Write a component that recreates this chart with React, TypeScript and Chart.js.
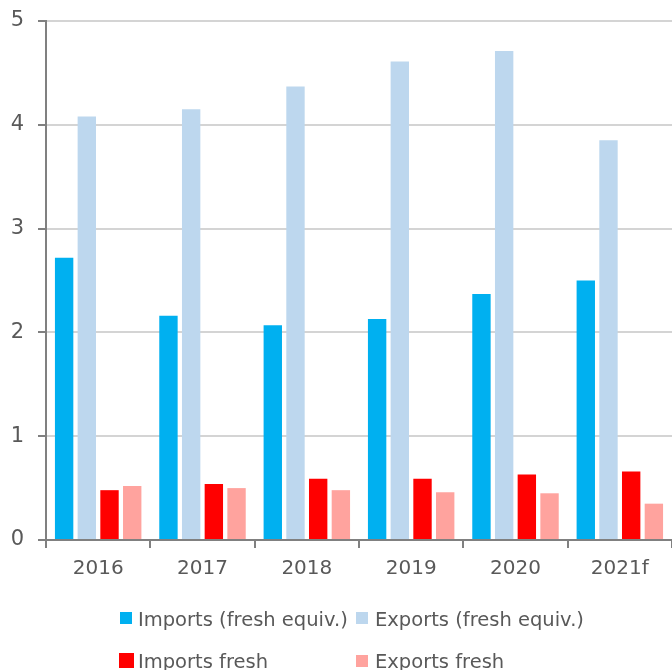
import React, { useEffect, useRef } from "react";
import { Chart, registerables } from "chart.js";

Chart.register(...registerables);

const categories = ["2016", "2017", "2018", "2019", "2020", "2021f"];
const importsEquiv = [2.72, 2.16, 2.07, 2.13, 2.37, 2.5];
const exportsEquiv = [4.08, 4.15, 4.37, 4.61, 4.71, 3.85];
const importsFresh = [0.48, 0.54, 0.59, 0.59, 0.63, 0.66];
const exportsFresh = [0.52, 0.5, 0.48, 0.46, 0.45, 0.35];

const seriesNames = [
  "Imports (fresh equiv.)",
  "Exports (fresh equiv.)",
  "Imports fresh",
  "Exports fresh",
];
const seriesColors = ["#00B0F0", "#BDD7EE", "#FF0000", "#FFA39E"];

const FONT = "'DejaVu Sans', sans-serif";
const TEXT = "#595959";

export default function App() {
  const ref = useRef<HTMLCanvasElement | null>(null);

  useEffect(() => {
    if (!ref.current) return;
    const values = [importsEquiv, exportsEquiv, importsFresh, exportsFresh];
    const chart = new Chart(ref.current, {
      type: "bar",
      data: {
        labels: categories,
        datasets: values.map((v, i) => ({
          label: seriesNames[i],
          data: v,
          backgroundColor: seriesColors[i],
          borderWidth: 0,
          categoryPercentage: 0.87,
          barPercentage: 0.81,
        })),
      },
      options: {
        animation: false,
        responsive: false,
        layout: { padding: { top: 21, right: 0, bottom: 0, left: 0 } },
        plugins: { legend: { display: false }, tooltip: { enabled: false } },
        scales: {
          x: {
            afterFit: (axis: any) => {
              axis.height = 130;
              axis.paddingLeft = 0;
              axis.paddingRight = 0;
            },
            grid: {
              drawOnChartArea: false,
              drawTicks: true,
              tickLength: 8,
              color: "#808080",
              lineWidth: 2,
            },
            border: { color: "#808080", width: 2 },
            ticks: {
              color: TEXT,
              font: { family: FONT, size: 20 },
              padding: 9,
              maxRotation: 0,
            },
          },
          y: {
            min: 0,
            max: 5,
            afterFit: (axis: any) => {
              axis.width = 46;
              axis.paddingTop = 0;
              axis.paddingBottom = 0;
            },
            grid: {
              color: "#D4D4D4",
              lineWidth: 2,
              tickColor: "#808080",
              tickLength: 8,
            },
            border: { color: "#808080", width: 2 },
            ticks: {
              stepSize: 1,
              color: TEXT,
              font: { family: FONT, size: 21 },
              padding: 14,
            },
          },
        },
      },
    });
    return () => chart.destroy();
  }, []);

  const legendPos = [
    { x: 120, y: 612, box: 12, tx: 138, ty: 610 },
    { x: 356, y: 612, box: 12, tx: 375, ty: 610 },
    { x: 119, y: 653, box: 15, tx: 138, ty: 652 },
    { x: 356, y: 655, box: 12, tx: 375, ty: 652 },
  ];

  return (
    <div
      style={{
        position: "absolute",
        left: 0,
        top: 0,
        width: 672,
        height: 670,
        overflow: "hidden",
        background: "#fff",
      }}
    >
      <canvas ref={ref} width={672} height={670} style={{ display: "block" }} />
      {seriesNames.map((name, i) => (
        <React.Fragment key={name}>
          <div
            style={{
              position: "absolute",
              left: legendPos[i].x,
              top: legendPos[i].y,
              width: legendPos[i].box,
              height: legendPos[i].box,
              background: seriesColors[i],
            }}
          />
          <span
            style={{
              position: "absolute",
              left: legendPos[i].tx,
              top: legendPos[i].ty,
              fontFamily: FONT,
              fontSize: 19.5,
              lineHeight: "19.5px",
              color: TEXT,
              whiteSpace: "nowrap",
            }}
          >
            {name}
          </span>
        </React.Fragment>
      ))}
    </div>
  );
}
